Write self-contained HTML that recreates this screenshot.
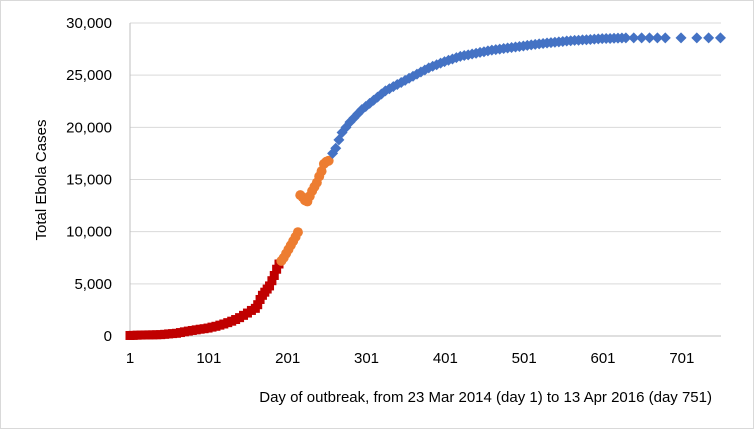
<!DOCTYPE html>
<html><head><meta charset="utf-8"><style>
body{margin:0;background:#fff;font-family:"Liberation Sans",sans-serif}
</style></head><body>
<svg width="754" height="429" font-family="Liberation Sans, sans-serif">
<rect x="0.5" y="0.5" width="753" height="428" fill="#fff" stroke="#d9d9d9"/>
<g id="grid"></g><g id="ticks"></g><g id="marks"></g>
<text x="46" y="180" transform="rotate(-90 46 180)" text-anchor="middle" font-size="15" fill="#000">Total Ebola Cases</text>
<text x="712" y="402" text-anchor="end" font-size="15" fill="#000">Day of outbreak, from 23 Mar 2014 (day 1) to 13 Apr 2016 (day 751)</text>
</svg>
<script>
const yTicks=[0,5000,10000,15000,20000,25000,30000];
const xTicks=[1,101,201,301,401,501,601,701];
const redDays=[1,5,10,15,20,25,30,35,40,45,50,55,60,65,70,75,80,85,90,95,100,105,110,115,120,125,130,135,140,145,150,155,160,163,166,169,172,175,178,181,184,187,190];
const redVals=[50,60,80,90,100,105,110,120,130,160,200,230,260,330,400,470,530,590,650,700,760,850,930,1040,1150,1280,1420,1580,1760,1980,2200,2450,2650,3000,3500,3900,4200,4500,4800,5300,5800,6400,6900];
const orangeDays=[193,196,199,202,205,208,211,214,217,220,223,226,229,232,235,238,241,244,247,250,253];
const orangeVals=[7200,7500,7900,8300,8700,9100,9500,9950,13500,13300,13000,12900,13400,13900,14300,14700,15300,15800,16500,16700,16800];
const blueDays=[258,262,266,270,275,280,285,290,295,300,305,310,315,320,325,330,335,340,345,350,355,360,365,370,375,380,385,390,395,400,405,410,415,420,425,430,435,440,445,450,455,460,465,470,475,480,485,490,495,500,505,510,515,520,525,530,535,540,545,550,555,560,565,570,575,580,585,590,595,600,605,610,615,620,625,630,640,650,660,670,680,700,720,735,750];
const blueVals=[17500,18000,18800,19500,20000,20500,20900,21300,21700,22000,22300,22600,22900,23200,23500,23700,23900,24100,24300,24500,24700,24900,25100,25300,25500,25700,25850,26000,26150,26300,26430,26550,26680,26800,26880,26950,27030,27100,27180,27250,27330,27400,27450,27500,27550,27600,27650,27700,27750,27800,27850,27900,27950,28000,28040,28080,28120,28150,28190,28230,28270,28300,28330,28350,28380,28400,28420,28450,28480,28500,28510,28520,28540,28550,28560,28570,28580,28580,28580,28580,28580,28580,28580,28580,28580];
const NS="http://www.w3.org/2000/svg";
const x=d=>130+(d-1)*(603-130)/600;
const y=v=>336-v*(336-23)/30000;
function mk(t,a,p){const e=document.createElementNS(NS,t);for(const k in a)e.setAttribute(k,a[k]);p.appendChild(e);return e;}
const grid=document.getElementById('grid'),ticks=document.getElementById('ticks'),marks=document.getElementById('marks');
yTicks.forEach(v=>{
 const l=mk('line',{x1:130,x2:721,y1:y(v),y2:y(v),stroke:v===0?'#bfbfbf':'#d9d9d9','stroke-width':1},grid);
 
 
 const t=mk('text',{x:112,y:y(v)+5,'text-anchor':'end','font-size':15,fill:'#000'},ticks);
 t.textContent=v.toLocaleString('en-US');
 
 
});
const ax=mk('line',{x1:130,x2:130,y1:23,y2:336,stroke:'#bfbfbf'},grid);


xTicks.forEach(d=>{
 const t=mk('text',{x:x(d),y:363,'text-anchor':'middle','font-size':15,fill:'#000'},ticks);
 t.textContent=d;
 
 
});
redDays.forEach((d,i)=>{
 const r=mk('rect',{x:x(d)-4.5,y:y(redVals[i])-4.5,width:9,height:9,fill:'#c00000'},marks);
 
 
});
orangeDays.forEach((d,i)=>{
 const c=mk('circle',{cx:x(d),cy:y(orangeVals[i]),r:5,fill:'#ed7d31'},marks);
 
 
});
blueDays.forEach((d,i)=>{
 const cx=x(d),cy=y(blueVals[i]);
 const p=mk('polygon',{points:`${cx},${cy-5.5} ${cx+5.5},${cy} ${cx},${cy+5.5} ${cx-5.5},${cy}`,fill:'#4472c4'},marks);
 
 
});
</script>
</body></html>
